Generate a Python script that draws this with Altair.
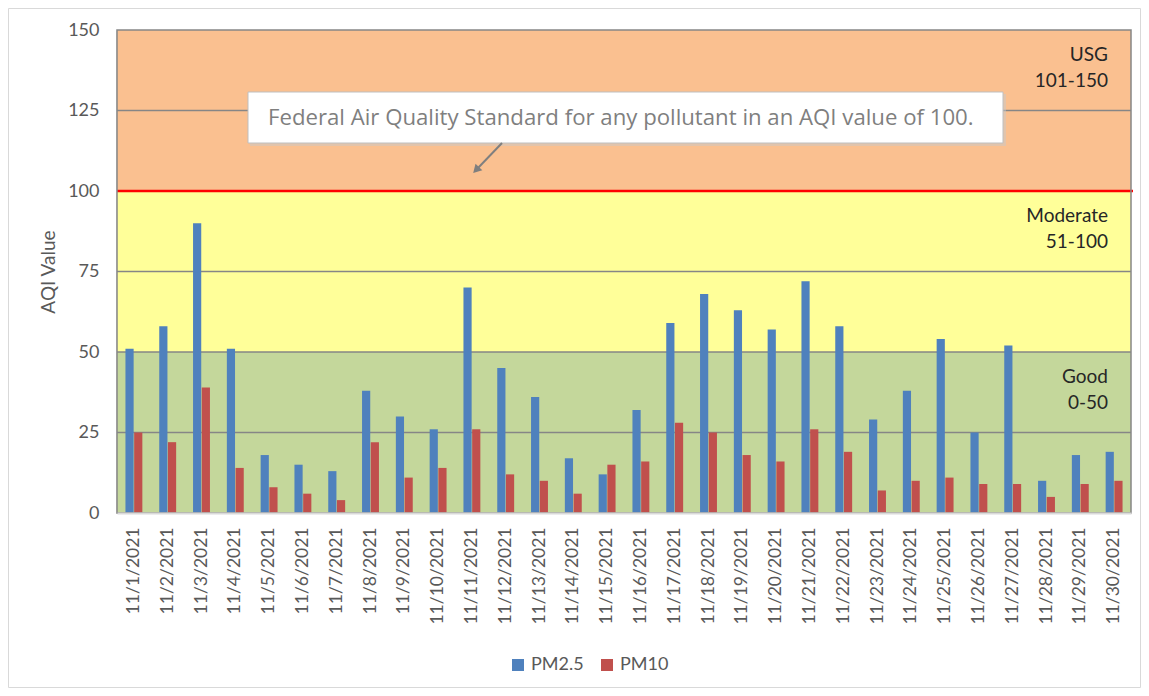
import altair as alt
import pandas as pd

dates = ["11/1/2021", "11/2/2021", "11/3/2021", "11/4/2021", "11/5/2021", "11/6/2021",
         "11/7/2021", "11/8/2021", "11/9/2021", "11/10/2021", "11/11/2021", "11/12/2021",
         "11/13/2021", "11/14/2021", "11/15/2021", "11/16/2021", "11/17/2021", "11/18/2021",
         "11/19/2021", "11/20/2021", "11/21/2021", "11/22/2021", "11/23/2021", "11/24/2021",
         "11/25/2021", "11/26/2021", "11/27/2021", "11/28/2021", "11/29/2021", "11/30/2021"]
pm25 = [51, 58, 90, 51, 18, 15, 13, 38, 30, 26, 70, 45, 36, 17, 12, 32, 59, 68, 63, 57,
        72, 58, 29, 38, 54, 25, 52, 10, 18, 19]
pm10 = [25, 22, 39, 14, 8, 6, 4, 22, 11, 14, 26, 12, 10, 6, 15, 16, 28, 25, 18, 16,
        26, 19, 7, 10, 11, 9, 9, 5, 9, 10]
series = ["PM2.5", "PM10"]
series_colors = ["#4F81BD", "#C0504D"]

band_lo = [0, 50, 100]
band_hi = [50, 100, 150]
band_colors = ["#C4D79B", "#FFFF99", "#FAC090"]
band_name = ["Good", "Moderate", "USG"]
band_range = ["0-50", "51-100", "101-150"]
grid_vals = [25, 50, 75, 125]
standard_val = [100]
y_ticks = [0, 25, 50, 75, 100, 125, 150]
note_text = ["Federal Air Quality Standard for any pollutant in an AQI value of 100."]

W, H = 1014, 483
FONT = "Lato"

rows = []
for d, a, b in zip(dates, pm25, pm10):
    rows.append({"date": d, "pollutant": series[0], "value": a})
    rows.append({"date": d, "pollutant": series[1], "value": b})
df = pd.DataFrame(rows)

bands = pd.DataFrame({"lo": band_lo, "hi": band_hi, "c": band_colors,
                      "name": band_name, "rng": band_range})
grid = pd.DataFrame({"v": grid_vals})
std = pd.DataFrame({"v": standard_val})
one = pd.DataFrame({"t": note_text})

yscale = alt.Scale(domain=[0, 150], nice=False)
yaxis = alt.Axis(values=y_ticks, ticks=False, labelPadding=18, grid=False,
                 domainColor="#868686", domainWidth=1.5,
                 labelFont=FONT, labelFontSize=18, labelColor="#595959",
                 titleFont=FONT, titleFontSize=19, titleFontWeight="normal",
                 titleColor="#595959", titlePadding=9)
YT = "AQI Value"


def ych(field):
    return alt.Y(field, scale=yscale, axis=yaxis, title=YT)


band_layer = alt.Chart(bands).mark_rect().encode(
    x=alt.value(0), x2=alt.value(W),
    y=ych("lo:Q"), y2="hi:Q",
    fill=alt.Fill("c:N", scale=None),
)

grid_layer = alt.Chart(grid).mark_rule(color="#868686", strokeWidth=1.5).encode(
    x=alt.value(0), x2=alt.value(W),
    y=ych("v:Q"),
)

std_layer = alt.Chart(std).mark_rule(color="#FF0000", strokeWidth=2.5).encode(
    x=alt.value(0), x2=alt.value(W + 2),
    y=ych("v:Q"),
)

bars = alt.Chart(df).mark_bar().encode(
    x=alt.X("date:N", sort=dates, title=None,
            scale=alt.Scale(paddingInner=0.5, paddingOuter=0.25),
            axis=alt.Axis(labelAngle=-90, ticks=False, labelPadding=14,
                          domainColor="#D9D9D9", domainWidth=2, zindex=1,
                          labelFont=FONT, labelFontSize=17.5, labelColor="#595959")),
    xOffset=alt.XOffset("pollutant:N", sort=series,
                        scale=alt.Scale(paddingInner=0.06)),
    y=ych("value:Q"),
    color=alt.Color("pollutant:N", sort=series,
                    scale=alt.Scale(domain=series, range=series_colors),
                    legend=alt.Legend(title=None, orient="none", legendX=392, legendY=626,
                                      direction="horizontal", symbolType="square",
                                      symbolSize=144, symbolStrokeWidth=0,
                                      labelFont=FONT, labelFontSize=18,
                                      labelColor="#595959", labelOffset=4,
                                      columnPadding=14)),
)

frame = alt.Chart(one).mark_rect(fill=None, stroke="#868686", strokeWidth=1.5).encode(
    x=alt.value(0), x2=alt.value(W), y=alt.value(0), y2=alt.value(H),
)

lab1 = alt.Chart(bands).mark_text(align="right", baseline="middle", font=FONT,
                                  fontSize=19, color="#262626", dy=25).encode(
    x=alt.value(991), y=ych("hi:Q"), text="name:N",
)
lab2 = alt.Chart(bands).mark_text(align="right", baseline="middle", font=FONT,
                                  fontSize=19, color="#262626", dy=51).encode(
    x=alt.value(991), y=ych("hi:Q"), text="rng:N",
)

shadow = alt.Chart(one).mark_rect(fill="#C8C8C8", opacity=0.5).encode(
    x=alt.value(133), x2=alt.value(889), y=alt.value(64), y2=alt.value(116),
)
box = alt.Chart(one).mark_rect(fill="white", stroke="#BFBFBF", strokeWidth=1).encode(
    x=alt.value(131), x2=alt.value(886), y=alt.value(62), y2=alt.value(113),
)
note = alt.Chart(one).mark_text(align="left", baseline="middle", font="Open Sans",
                                fontSize=22.2, color="#7F7F7F").encode(
    x=alt.value(151), y=alt.value(88), text="t:N",
)
arrow = alt.Chart(one).mark_rule(color="#7F7F7F", strokeWidth=2).encode(
    x=alt.value(385), x2=alt.value(361), y=alt.value(113), y2=alt.value(138),
)
head = alt.Chart(one).mark_point(shape="triangle", filled=True, angle=224, size=90,
                                 color="#7F7F7F", opacity=1).encode(
    x=alt.value(360), y=alt.value(139),
)
outer = alt.Chart(one).mark_rect(fill=None, stroke="#D9D9D9", strokeWidth=1).encode(
    x=alt.value(-108.5), x2=alt.value(W + 9.5), y=alt.value(-21.5), y2=alt.value(H + 174.5),
)

chart = alt.layer(
    band_layer, grid_layer, std_layer, bars, frame, lab1, lab2,
    shadow, box, note, arrow, head, outer
).resolve_scale(y="shared").properties(
    width=W, height=H,
    autosize=alt.AutoSizeParams(type="none"),
    padding={"left": 109, "top": 22, "right": 10, "bottom": 175},
).configure_view(stroke=None)

chart.save("out.html", embed_options={"renderer": "svg", "actions": False})
